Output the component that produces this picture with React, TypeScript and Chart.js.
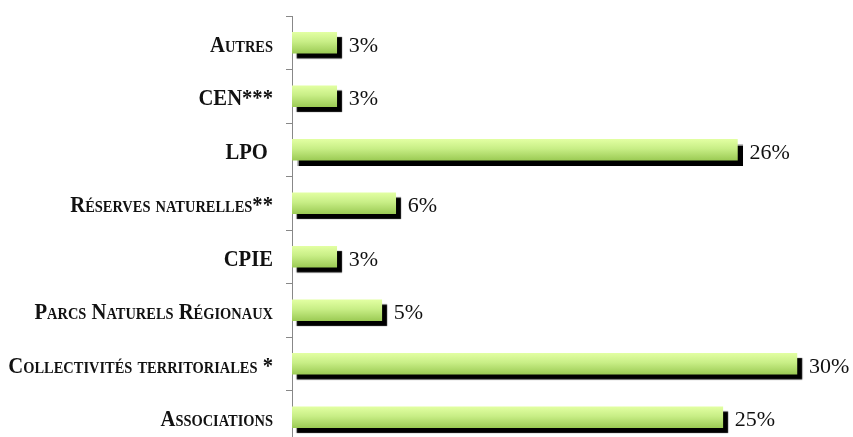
import React, { useEffect, useRef } from "react";
import { Chart, registerables } from "chart.js";

Chart.register(...registerables);

const categories = [
  "Autres",
  "CEN***",
  "LPO ",
  "Réserves naturelles**",
  "CPIE",
  "Parcs Naturels Régionaux",
  "Collectivités territoriales *",
  "Associations",
];
const shares = [2.63, 2.63, 26.2, 6.1, 2.63, 5.28, 29.7, 25.34];
const shareLabels = ["3%", "3%", "26%", "6%", "3%", "5%", "30%", "25%"];

const W = 853;
const H = 450;

const CAP_SIZE = 24;
const SMALL_RATIO = 0.7;
const X_SCALE = 0.86;

function drawSmallCaps(ctx: CanvasRenderingContext2D, text: string, rightX: number, baseline: number) {
  const big = `bold ${CAP_SIZE}px 'Liberation Serif'`;
  const small = `bold ${CAP_SIZE * SMALL_RATIO}px 'Liberation Serif'`;
  const runs: { t: string; f: string }[] = [];
  for (const ch of text) {
    const isLower = ch !== ch.toUpperCase();
    const f = isLower ? small : big;
    const t = isLower ? ch.toUpperCase() : ch;
    const last = runs[runs.length - 1];
    if (last && last.f === f) last.t += t;
    else runs.push({ t, f });
  }
  let total = 0;
  const widths = runs.map((r) => {
    ctx.font = r.f;
    const w = ctx.measureText(r.t).width;
    total += w;
    return w;
  });
  ctx.save();
  ctx.translate(rightX, baseline);
  ctx.scale(X_SCALE, 1);
  let x = -total;
  ctx.textAlign = "left";
  ctx.textBaseline = "alphabetic";
  runs.forEach((r, i) => {
    ctx.font = r.f;
    ctx.fillText(r.t, x, 0);
    x += widths[i];
  });
  ctx.restore();
}

const shadowPlugin = {
  id: "barShadow",
  beforeDatasetDraw(chart: any) {
    const ctx = chart.ctx;
    ctx.save();
    ctx.shadowColor = "rgba(0,0,0,1)";
    ctx.shadowOffsetX = 5;
    ctx.shadowOffsetY = 5;
    ctx.shadowBlur = 1;
  },
  afterDatasetDraw(chart: any) {
    chart.ctx.restore();
  },
};

const labelPlugin = {
  id: "valueLabels",
  afterDatasetsDraw(chart: any) {
    const ctx = chart.ctx;
    const meta = chart.getDatasetMeta(0);
    ctx.save();
    ctx.font = "22px 'Liberation Serif'";
    ctx.fillStyle = "#111";
    ctx.textAlign = "left";
    ctx.textBaseline = "alphabetic";
    meta.data.forEach((bar: any, i: number) => {
      ctx.fillText(shareLabels[i], bar.x + 12, bar.y + 9);
    });
    ctx.restore();
  },
};

const categoryLabelPlugin = {
  id: "categoryLabels",
  afterDraw(chart: any) {
    const ctx = chart.ctx;
    const ys = chart.scales.y;
    ctx.save();
    ctx.fillStyle = "#111";
    categories.forEach((label, i) => {
      const y = ys.getPixelForTick(i);
      drawSmallCaps(ctx, label, ys.right - 19, y + 9);
    });
    ctx.restore();
  },
};

export default function App() {
  const ref = useRef<HTMLCanvasElement>(null);
  useEffect(() => {
    if (!ref.current) return;
    const chart = new Chart(ref.current, {
      type: "bar",
      data: {
        labels: categories,
        datasets: [
          {
            data: shares,
            barThickness: 21,
            borderWidth: 0,
            backgroundColor: (c: any) => {
              const ch = c.chart;
              const ys = ch.scales && ch.scales.y;
              if (!ys || c.dataIndex === undefined) return "#b8e070";
              const y = ys.getPixelForValue(c.dataIndex);
              if (!isFinite(y)) return "#b8e070";
              const g = ch.ctx.createLinearGradient(0, y - 10.5, 0, y + 10.5);
              g.addColorStop(0, "#e2ffa2");
              g.addColorStop(0.45, "#c8ee86");
              g.addColorStop(1, "#9ccb55");
              return g;
            },
          },
        ],
      },
      options: {
        indexAxis: "y",
        responsive: false,
        animation: false,
        devicePixelRatio: 1,
        layout: { padding: { top: 16, bottom: 6, left: 0, right: 0 } },
        plugins: {
          legend: { display: false },
          tooltip: { enabled: false },
        },
        scales: {
          x: { display: false, min: 0, max: 33 },
          y: {
            afterFit: (s: any) => {
              s.width = 292;
            },
            border: { display: true, color: "#888888", width: 1 },
            grid: {
              drawOnChartArea: false,
              drawTicks: true,
              tickLength: 6,
              color: "#888888",
              offset: true,
            },
            ticks: {
              display: false,
              padding: 0,
            },
          },
        },
      },
      plugins: [shadowPlugin, labelPlugin, categoryLabelPlugin],
    });
    return () => chart.destroy();
  }, []);
  return (
    <div style={{ position: "fixed", left: 0, top: 0, width: W, height: H, background: "#fff" }}>
      <canvas ref={ref} width={W} height={H} />
    </div>
  );
}
